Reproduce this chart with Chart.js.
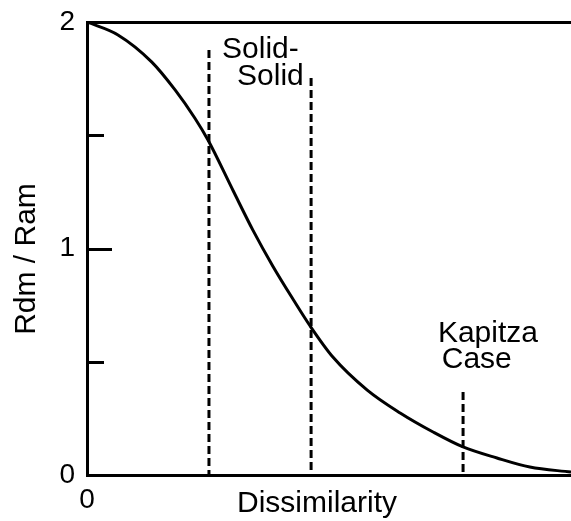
<!DOCTYPE html>
<html>
<head>
<meta charset="utf-8">
<script src="https://cdn.jsdelivr.net/npm/chart.js@4"></script>
<style>
  html, body { margin: 0; padding: 0; background: #fff; }
  #wrap { width: 571px; height: 521px; }
</style>
</head>
<body>
<div id="wrap"><canvas id="c" width="571" height="521"></canvas></div>
<script>
// Normalised dissimilarity (0 = identical materials) and resistance ratio Rdm/Ram
const dissimilarity   = [0, 0.064, 0.134, 0.182, 0.223, 0.25, 0.302, 0.343, 0.384, 0.426, 0.461, 0.508, 0.579, 0.647, 0.715, 0.777, 0.847, 0.915, 1.0];
const resistanceRatio = [2.0, 1.943, 1.823, 1.70, 1.575, 1.479, 1.255, 1.080, 0.922, 0.775, 0.658, 0.521, 0.375, 0.274, 0.190, 0.124, 0.075, 0.035, 0.013];

// Reference cases marked with dashed verticals
const markerX   = [0.252, 0.463, 0.777];
const markerTop = [1.876, 1.753, 0.366];

// Axis ticks
const yTickValues = [0, 0.5, 1, 1.5, 2];
const yTickLabels = ['0', '', '1', '', '2'];
const xTickValues = [0];
const xTickLabels = ['0'];

const FONT = '"Liberation Sans", Arial, Helvetica, sans-serif';
const INK = '#000';

const curve = dissimilarity.map((x, i) => ({ x, y: resistanceRatio[i] }));

// dashes run from the top end down to the axis
const markerSets = markerX.map((x, i) => ({
  data: [{ x, y: markerTop[i] }, { x, y: 0 }],
  borderColor: INK,
  borderWidth: 3,
  borderDash: [8, 4],
  pointRadius: 0,
  fill: false
}));

// Text placed in data units; each entry gives a left edge and a baseline
const notes = [
  { x: 0.279, y: 1.841, text: 'Solid-' },
  { x: 0.310, y: 1.722, text: 'Solid' },
  { x: 0.725, y: 0.587, text: 'Kapitza' },
  { x: 0.733, y: 0.472, text: 'Case' }
];

const decorations = {
  id: 'decorations',
  afterDraw(chart) {
    const { ctx, chartArea } = chart;
    const xs = chart.scales.x, ys = chart.scales.y;
    ctx.save();
    // inward tick marks on the left axis
    ctx.strokeStyle = INK;
    ctx.lineWidth = 3;
    yTickValues.forEach(v => {
      if (v === 0 || v === 2) return;
      const py = Math.round(ys.getPixelForValue(v)) + 0.5;
      const len = (v === 1) ? 25 : 17;
      ctx.beginPath();
      ctx.moveTo(chartArea.left, py);
      ctx.lineTo(chartArea.left + len, py);
      ctx.stroke();
    });
    // annotations
    ctx.fillStyle = INK;
    ctx.font = '30px ' + FONT;
    ctx.textAlign = 'left';
    ctx.textBaseline = 'alphabetic';
    notes.forEach(n => {
      ctx.fillText(n.text, xs.getPixelForValue(n.x), ys.getPixelForValue(n.y));
    });
    // axis titles
    ctx.textAlign = 'center';
    ctx.fillText('Dissimilarity', 317, 512);
    ctx.translate(35, 259);
    ctx.rotate(-Math.PI / 2);
    ctx.fillText('Rdm / Ram', 0, 0);
    ctx.restore();
  }
};

new Chart(document.getElementById('c'), {
  type: 'line',
  data: {
    datasets: [
      {
        data: curve,
        borderColor: INK,
        borderWidth: 3,
        pointRadius: 0,
        cubicInterpolationMode: 'monotone',
        fill: false
      },
      ...markerSets
    ]
  },
  options: {
    responsive: false,
    animation: false,
    devicePixelRatio: 1,
    layout: { padding: { top: 22, right: 0, bottom: 0, left: 0 } },
    plugins: { legend: { display: false }, tooltip: { enabled: false } },
    scales: {
      x: {
        type: 'linear',
        position: 'bottom',
        min: 0,
        max: 1,
        afterBuildTicks: s => { s.ticks = xTickValues.map(value => ({ value })); },
        afterFit: s => { s.height = 46; },
        grid: { display: false },
        border: { display: true, color: INK, width: 3 },
        ticks: {
          color: INK,
          font: { family: FONT, size: 28 },
          padding: 0,
          maxRotation: 0,
          callback: (v, i) => xTickLabels[i]
        }
      },
      xTop: {
        type: 'linear',
        position: 'top',
        min: 0,
        max: 1,
        afterFit: s => { s.height = 0; },
        grid: { display: false },
        border: { display: true, color: INK, width: 3 },
        ticks: { display: false }
      },
      y: {
        type: 'linear',
        min: 0,
        max: 2,
        afterBuildTicks: s => { s.ticks = yTickValues.map(value => ({ value })); },
        afterFit: s => { s.width = 87; },
        grid: { display: false },
        border: { display: true, color: INK, width: 3 },
        ticks: {
          color: INK,
          font: { family: FONT, size: 28 },
          padding: 4,
          callback: (v, i) => yTickLabels[i]
        }
      }
    }
  },
  plugins: [decorations]
});
</script>
</body>
</html>
